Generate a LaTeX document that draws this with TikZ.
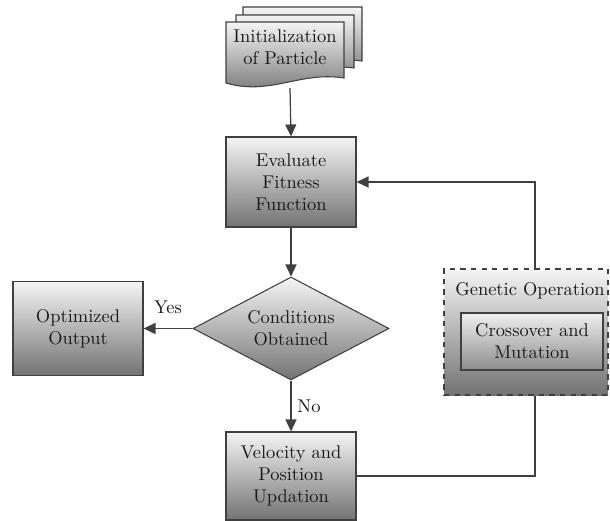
\documentclass[tikz,border=0pt]{standalone}
\usepackage{tikz}
\usetikzlibrary{shapes.geometric,arrows.meta}

\tikzset{
  every node/.style={font=\fontsize{10.5}{12.6}\selectfont},
  shadebox/.style={draw=black!75,line width=0.6pt,top color=black!4,bottom color=black!55,
    text=black!90,align=center,inner sep=0pt},
  procbox/.style={shadebox,minimum width=2.6cm},
  arr/.style={draw=black!75,line width=0.7pt,-{Triangle[length=0.24cm,width=0.22cm]}},
  conn/.style={draw=black!75,line width=0.7pt},
}

\begin{document}
\begin{tikzpicture}
	\useasboundingbox (0,0) rectangle (12.2,-10.42);
	% stacked documents
	\draw[shadebox] (4.86,-0.14) -- (7.24,-0.14) -- (7.24,-1.22)
		.. controls (6.4,-1.1) and (5.7,-1.6) .. (4.86,-1.36) -- cycle;
	\draw[shadebox] (4.72,-0.30) -- (7.08,-0.30) -- (7.08,-1.36)
		.. controls (6.2,-1.24) and (5.5,-1.74) .. (4.72,-1.52) -- cycle;
	\draw[shadebox] (4.52,-0.44) -- (6.88,-0.44) -- (6.88,-1.56)
		.. controls (6.0,-1.42) and (5.4,-1.92) .. (4.52,-1.66) -- cycle;
	\node[text=black!90,align=center] (init) at (5.70,-0.94) {Initialization\\of Particle};
	\coordinate (initend) at (5.80,-1.76);

	\node[procbox,minimum height=1.8cm] (eval) at (5.82,-3.64) {Evaluate\\Fitness\\Function};
	\node[shadebox,diamond,aspect=1.9,minimum width=3.92cm,minimum height=2.06cm] (cond) at (5.82,-6.57) {Conditions\\Obtained};
	\node[procbox,minimum height=1.88cm] (opt) at (1.56,-6.57) {Optimized\\Output};
	\node[procbox,minimum height=1.76cm] (vel) at (5.82,-9.52) {Velocity and\\Position\\Updation};

	% genetic operation group
	\node[shadebox,dashed,minimum width=3.28cm,minimum height=2.52cm] (gen) at (10.52,-6.64) {};
	\node[text=black!90] (genlabel) at (10.60,-5.82) {Genetic Operation};
	\node[shadebox,top color=black!6,bottom color=black!45,minimum width=2.84cm,minimum height=1.14cm] (cross) at (10.64,-6.83) {Crossover and\\Mutation};
	\coordinate (loop) at (10.70,-3.52);

	\draw[arr] (initend) -- (eval.north);
	\draw[arr] (eval.south) -- (cond.north);
	\draw[arr] (cond.west) -- node[above=5pt,text=black!90] {Yes} (opt.east);
	\draw[arr] (cond.south) -- node[right,text=black!90] {No} (vel.north);
	\draw[conn] (vel.east) -| (gen.south -| loop);
	\draw[arr] (gen.north -| loop) |- (eval.east);
\end{tikzpicture}
\end{document}
